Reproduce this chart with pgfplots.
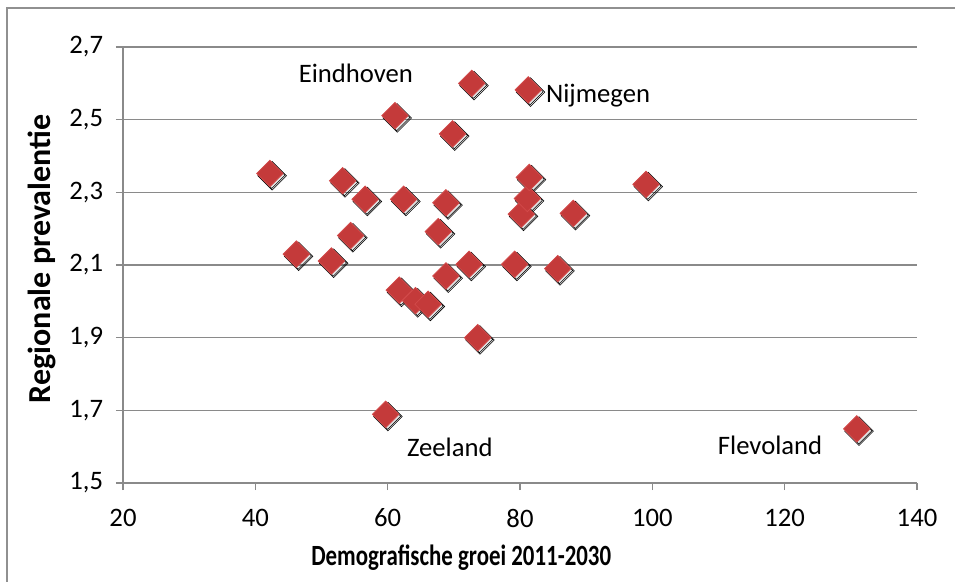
\documentclass[border=0pt]{standalone}
\usepackage{fontspec}
\setmainfont{Carlito}
\usepackage{pgfplots}
\pgfplotsset{compat=1.18}
\usepackage{pgfplotstable}

\definecolor{markred}{HTML}{C43A3A}
\definecolor{markedge}{HTML}{D24A4A}
\definecolor{gridgray}{HTML}{8A8A8A}
\definecolor{framegray}{HTML}{909090}

% demografische groei (x) tegen regionale prevalentie (y)
\pgfplotstableread{
x      y
42.2   2.352
46.2   2.130
51.5   2.111
53.2   2.332
54.4   2.181
56.6   2.281
59.7   1.689
61.1   2.511
61.75  2.031
62.4   2.281
64.2   2.002
66.1   1.992
67.65  2.192
68.8   2.070
68.8   2.271
69.8   2.461
72.7   2.600
72.3   2.102
73.6   1.900
79.2   2.102
80.2   2.240
81.1   2.283
81.4   2.341
81.25  2.582
85.7   2.090
88.05  2.242
99.05  2.322
130.9  1.649
}\regio

\begin{document}
\begin{tikzpicture}
\path[use as bounding box] (-92.25pt,-73.5pt) rectangle (624pt,362.25pt);
\begin{axis}[
  scale only axis,
  width=595.5pt, height=327pt,
  xmin=20, xmax=140, ymin=1.5, ymax=2.7,
  xtick={20,40,...,140},
  ytick={1.5,1.7,1.9,2.1,2.3,2.5,2.7},
  axis lines*=left,
  axis line style={gridgray, line width=1.1pt},
  tick style={gridgray, line width=1.1pt},
  tick align=outside,
  major tick length=5.25pt,
  ymajorgrids,
  grid style={gridgray, line width=1.1pt},
  /pgf/number format/assume math mode=true,
  yticklabel style={/pgf/number format/fixed, /pgf/number format/fixed zerofill,
    /pgf/number format/precision=1, /pgf/number format/use comma,
    anchor=east, inner sep=0pt, xshift=-9.5pt},
  xticklabel style={/pgf/number format/fixed, /pgf/number format/precision=0,
    anchor=north, inner sep=0pt, yshift=-14pt},
  tick label style={font=\fontsize{20}{22}\selectfont, black},
  xlabel={\scalebox{0.78}[1]{Demografische groei 2011-2030}},
  ylabel={Regionale prevalentie},
  xlabel style={font=\bfseries\fontsize{22}{24}\selectfont,
    at={(axis description cs:0.426,-0.172)}, anchor=center},
  ylabel style={font=\bfseries\fontsize{24}{26}\selectfont,
    at={(axis description cs:-0.1025,0.514)}, anchor=center, rotate=0},
  clip=false,
]
% zachte schaduw onder de markeringen, in twee lagen
\addplot[only marks, mark=square*, mark size=7.6pt,
  mark options={draw=none, fill=black, fill opacity=0.05, rotate=45, yshift=-2.4pt}]
  table[x=x, y=y] {\regio};
\addplot[only marks, mark=square*, mark size=7pt,
  mark options={draw=none, fill=black, fill opacity=0.07, rotate=45, yshift=-2pt}]
  table[x=x, y=y] {\regio};
\addplot[only marks, mark=square*, mark size=7pt,
  mark options={draw=markedge, line width=0.6pt, fill=markred, rotate=45}]
  table[x=x, y=y] {\regio};

\node[font=\fontsize{20}{24}\selectfont] at (axis cs:55.2,2.628) {Eindhoven};
\node[font=\fontsize{20}{24}\selectfont] at (axis cs:91.8,2.565) {Nijmegen};
\node[font=\fontsize{20}{24}\selectfont] at (axis cs:69.4,1.599) {Zeeland};
\node[font=\fontsize{20}{24}\selectfont] at (axis cs:117.8,1.605) {Flevoland};
\end{axis}
\draw[framegray, line width=1.5pt] (-86.9pt,-80pt) -- (-86.9pt,355.9pt) -- (630pt,355.9pt);
\end{tikzpicture}
\end{document}
